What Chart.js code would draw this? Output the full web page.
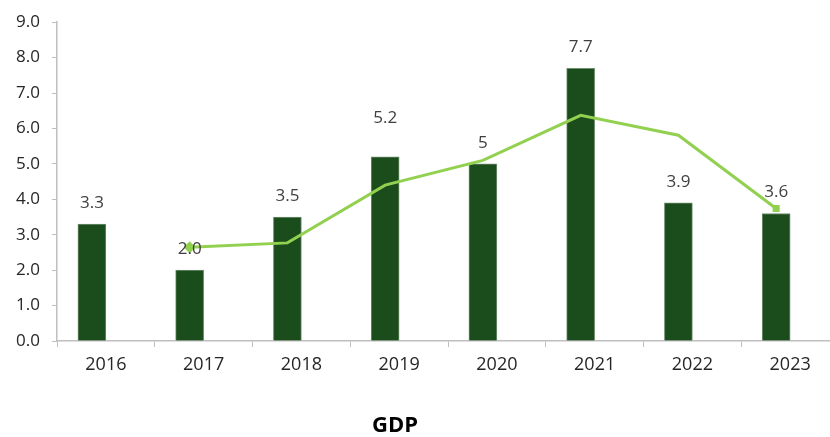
<!DOCTYPE html>
<html>
<head>
<meta charset="utf-8">
<script src="https://cdn.jsdelivr.net/npm/chart.js@4"></script>
<style>
  html, body { margin: 0; padding: 0; background: #fff; overflow: hidden; }
  #wrap { position: relative; width: 845px; height: 437px; }
</style>
</head>
<body>
<div id="wrap"><canvas id="gdpChart"></canvas></div>
<script>
  // ---------- Data ----------
  const years = ['2016', '2017', '2018', '2019', '2020', '2021', '2022', '2023'];
  const gdpValues = [3.3, 2.0, 3.5, 5.2, 5.0, 7.7, 3.9, 3.6];
  const gdpLabels = ['3.3', '2.0', '3.5', '5.2', '5', '7.7', '3.9', '3.6'];
  const trendValues = [null, 2.65, 2.77, 4.4, 5.1, 6.37, 5.81, 3.74];
  const yTicks = [0, 1, 2, 3, 4, 5, 6, 7, 8, 9];
  const chartTitle = 'GDP';

  // ---------- Style ----------
  const FONT = "'Open Sans', 'Liberation Sans', sans-serif";
  const BAR = '#1b4c1c';
  const LINE = '#92d050';
  const AXIS = '#bfbfbf';
  const SHIFT = 0.143; // bars sit left of the category centre (Excel 2-series gap)

  Chart.defaults.font.family = FONT;
  Chart.defaults.color = '#262626';

  // labels above the bars, one of them lifted higher like the original
  const barLabels = {
    id: 'barLabels',
    afterDatasetsDraw(chart, args, opts){
      const ctx = chart.ctx;
      const meta = chart.getDatasetMeta(0);
      ctx.save();
      ctx.font = `17px ${FONT}`;
      ctx.fillStyle = '#404040';
      ctx.textAlign = 'center';
      ctx.textBaseline = 'middle';
      meta.data.forEach((bar, i) => {
        const lift = (opts.lift && opts.lift[i]) || opts.defaultLift;
        ctx.fillText(gdpLabels[i], bar.x, bar.y - lift);
      });
      ctx.restore();
    }
  };

  // bottom title, a bit left of centre like the source
  const bottomTitle = {
    id: 'bottomTitle',
    afterDraw(chart, args, opts){
      const ctx = chart.ctx;
      ctx.save();
      ctx.font = `bold 22px ${FONT}`;
      ctx.fillStyle = '#000';
      ctx.textAlign = 'center';
      ctx.textBaseline = 'middle';
      ctx.fillText(chartTitle, opts.x, opts.y);
      ctx.restore();
    }
  };

  const barPoints = gdpValues.map((v, i) => ({ x: i, y: v }));
  const trendPoints = trendValues
    .map((v, i) => ({ x: i, y: v }))
    .filter(p => p.y !== null);
  const lastIdx = trendPoints.length - 1;

  new Chart(document.getElementById('gdpChart'), {
    type: 'bar',
    data: {
      labels: years,
      datasets: [
        {
          label: 'GDP',
          data: barPoints,
          xAxisID: 'x2',
          backgroundColor: BAR,
          borderColor: '#6f8f6f',
          borderWidth: 1,
          barThickness: 28,
          order: 2,
        },
        {
          type: 'line',
          label: 'trend',
          data: trendPoints,
          xAxisID: 'x2',
          borderColor: LINE,
          backgroundColor: LINE,
          borderWidth: 3,
          tension: 0,
          pointStyle: trendPoints.map((p, i) => i === 0 ? 'rectRot' : 'rect'),
          pointRadius: trendPoints.map((p, i) => i === 0 ? 6 : (i === lastIdx ? 5 : 0)),
          pointBorderWidth: 0,
          order: 1,
        }
      ]
    },
    options: {
      responsive: true,
      maintainAspectRatio: false,
      animation: false,
      layout: { padding: { top: 19, right: 5, left: 0, bottom: 0 } },
      plugins: {
        legend: { display: false },
        tooltip: { enabled: false },
        barLabels: { defaultLift: 21, lift: { 3: 39 } },
        bottomTitle: { x: 395, y: 426 },
      },
      scales: {
        x: {
          type: 'category',
          offset: true,
          grid: {
            offset: true,
            drawOnChartArea: false,
            color: AXIS,
            tickLength: 6,
            lineWidth: 1,
          },
          border: { color: AXIS, width: 1.5 },
          ticks: { font: { size: 18 }, padding: 7, maxRotation: 0 },
          afterFit(scale){ scale.height = 96; },
        },
        x2: {
          type: 'linear',
          display: false,
          offset: false,
          grid: { offset: false },
          min: -0.5 + SHIFT,
          max: years.length - 0.5 + SHIFT,
        },
        y: {
          min: 0,
          max: 9,
          afterBuildTicks(scale){ scale.ticks = yTicks.map(v => ({ value: v })); },
          grid: {
            drawOnChartArea: false,
            color: AXIS,
            tickLength: 5,
          },
          border: { color: AXIS, width: 1.5 },
          ticks: {
            font: { size: 17 },
            padding: 12,
            callback: v => Number(v).toFixed(1),
          },
          afterFit(scale){ scale.width = 57; },
        }
      }
    },
    plugins: [barLabels, bottomTitle]
  });
</script>
</body>
</html>
